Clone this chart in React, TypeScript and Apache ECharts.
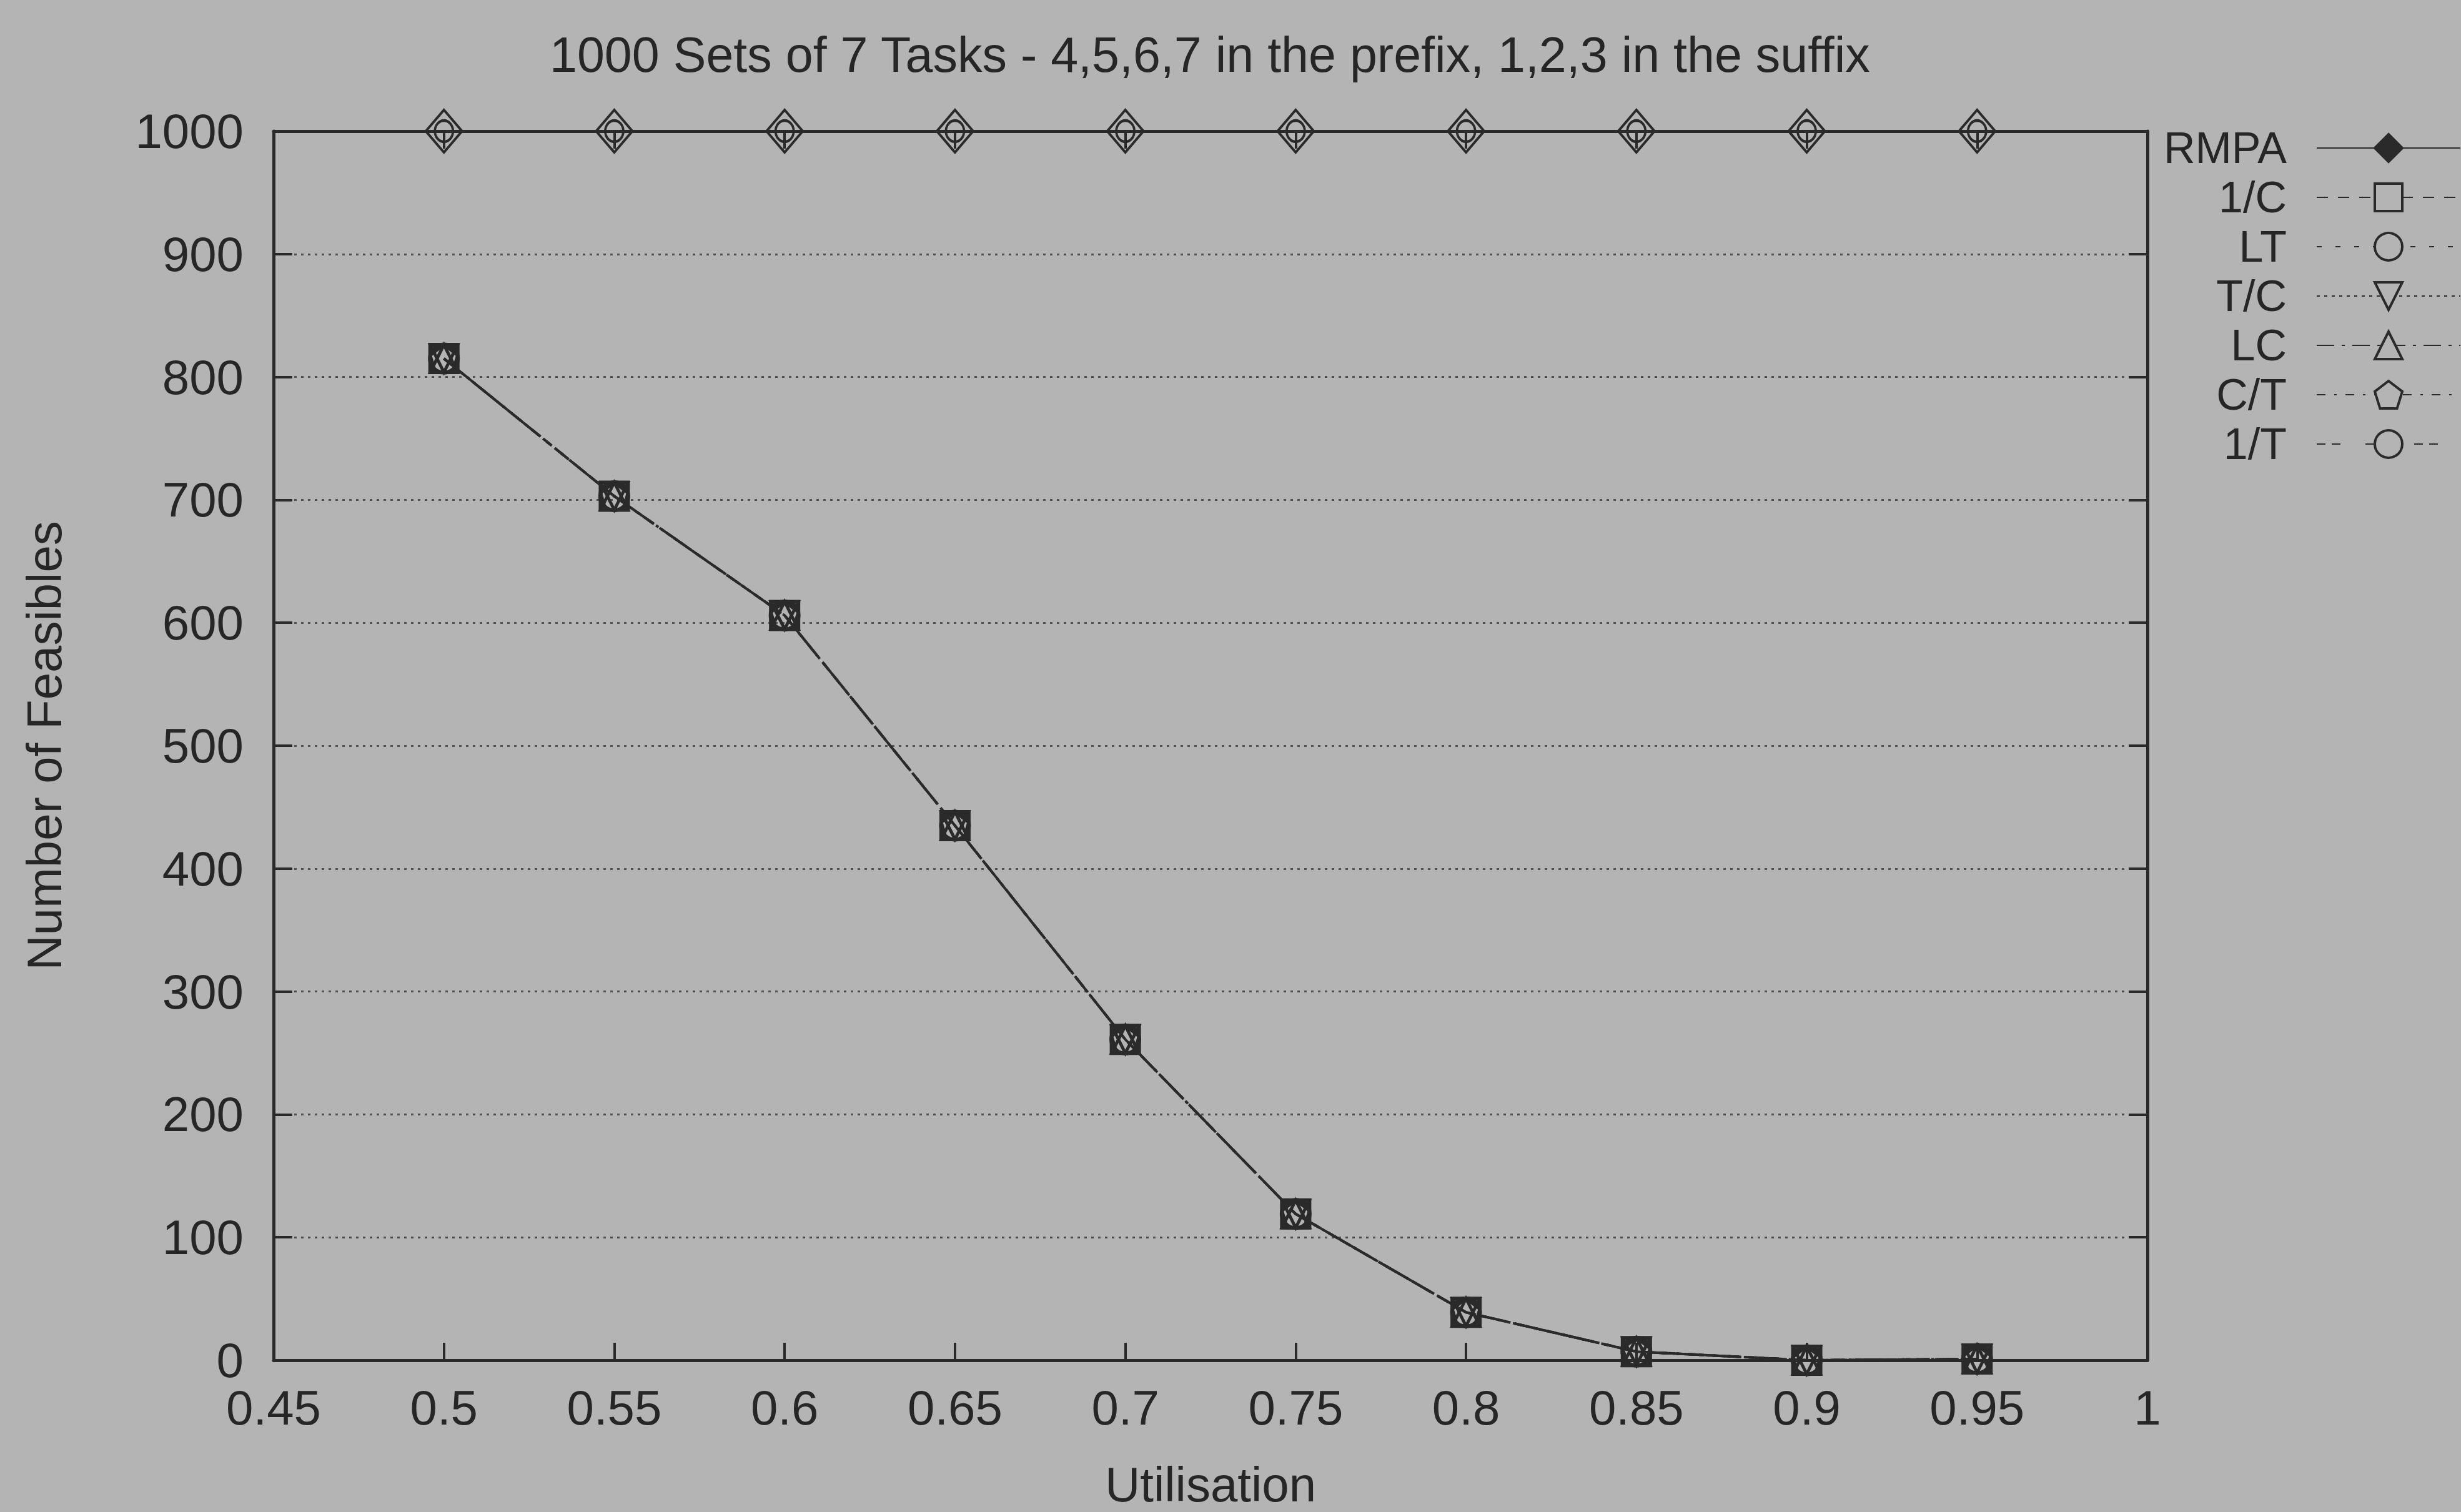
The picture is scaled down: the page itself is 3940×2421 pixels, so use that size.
import React, { useEffect, useRef } from 'react';
import * as echarts from 'echarts';

// ---- data ----
const utilisation = [0.5, 0.55, 0.6, 0.65, 0.7, 0.75, 0.8, 0.85, 0.9, 0.95];
const rmpaValues = [1000, 1000, 1000, 1000, 1000, 1000, 1000, 1000, 1000, 1000];
const oneOverCValues = [815, 703, 606, 435, 261, 119, 39, 7, 0, 1];
const ltValues = [815, 703, 606, 435, 261, 119, 39, 7, 0, 1];
const tOverCValues = [815, 703, 606, 435, 261, 119, 39, 7, 0, 1];
const lcValues = [815, 703, 606, 435, 261, 119, 39, 7, 0, 1];
const cOverTValues = [815, 703, 606, 435, 261, 119, 39, 7, 0, 1];
const oneOverTValues = [815, 703, 606, 435, 261, 119, 39, 7, 0, 1];

const xTicks = [0.45, 0.5, 0.55, 0.6, 0.65, 0.7, 0.75, 0.8, 0.85, 0.9, 0.95, 1];
const yTicks = [0, 100, 200, 300, 400, 500, 600, 700, 800, 900, 1000];

const titleText = '1000 Sets of 7 Tasks - 4,5,6,7 in the prefix, 1,2,3 in the suffix';
const xName = 'Utilisation';
const yName = 'Number of Feasibles';

// ---- style ----
const BG = '#b4b4b4';
const INK = '#262626';
const LINE = '#2a2a2a';
const FONT = "'Liberation Sans', Arial, Helvetica, sans-serif";
const FS = 78;
const LEGEND_FS = 70;

const diamondCircle =
  'path://M0,-1L1,0L0,1L-1,0Z M0.5,0 A0.5,0.5 0 1 1 -0.5,0 A0.5,0.5 0 1 1 0.5,0Z';
const invTriangle = 'path://M-1,-0.9L1,-0.9L0,0.9Z';
const pentagon = 'path://M0,-1L0.951,-0.309L0.588,0.809L-0.588,0.809L-0.951,-0.309Z';

const seriesDefs = [
  { name: 'RMPA', values: rmpaValues, symbol: diamondCircle, size: [58, 68], dash: 'solid' as any, bw: 4 },
  { name: '1/C', values: oneOverCValues, symbol: 'rect', size: 44, dash: [18, 16], bw: 6 },
  { name: 'LT', values: ltValues, symbol: 'circle', size: 44, dash: [8, 22], bw: 5 },
  { name: 'T/C', values: tOverCValues, symbol: invTriangle, size: 44, dash: [5, 7], bw: 5 },
  { name: 'LC', values: lcValues, symbol: 'triangle', size: 44, dash: [28, 12, 5, 12], bw: 5 },
  { name: 'C/T', values: cOverTValues, symbol: pentagon, size: 44, dash: [14, 14, 4, 14], bw: 5 },
  { name: '1/T', values: oneOverTValues, symbol: 'circle', size: 46, dash: [14, 10, 14, 40], bw: 5 },
];

export default function App() {
  const ref = useRef<HTMLDivElement>(null);

  useEffect(() => {
    if (!ref.current) return;
    const chart = echarts.init(ref.current, undefined, { renderer: 'svg' });

    const fmtX = (v: number) => String(Math.round(v * 100) / 100);
    const fmtY = (v: number) => String(Math.round(v));

    const series = seriesDefs
      .map((d, i) => ({
        name: d.name,
        type: 'line',
        xAxisIndex: 0,
        yAxisIndex: 0,
        data: utilisation.map((x, k) => [x, d.values[k]]),
        symbol: d.symbol,
        symbolSize: d.size,
        showSymbol: true,
        z: i === 0 ? 10 : 5,
        lineStyle: { color: LINE, width: 4, type: d.dash },
        itemStyle: { color: 'rgba(0,0,0,0)', borderColor: LINE, borderWidth: d.bw },
        emphasis: { disabled: true },
      }))
      .reverse();

    chart.setOption({
      animation: false,
      backgroundColor: BG,
      textStyle: { fontFamily: FONT },
      title: {
        text: titleText,
        left: 880,
        top: 48,
        padding: 0,
        textStyle: { fontFamily: FONT, fontSize: 79, fontWeight: 'normal', color: INK },
      },
      grid: { left: 438, right: 502, top: 210, bottom: 243, containLabel: false },
      legend: {
        orient: 'vertical',
        align: 'right',
        right: 0,
        top: 197.5,
        padding: 0,
        itemGap: 0,
        itemWidth: 230,
        itemHeight: 55,
        selectedMode: false,
        itemStyle: { borderWidth: 4 },
        textStyle: {
          fontFamily: FONT,
          fontSize: LEGEND_FS,
          color: INK,
          lineHeight: 79,
          padding: [0, 43, 0, 0],
        },
        data: seriesDefs.map((d, i) => ({
          name: d.name,
          itemStyle: { color: i === 0 ? LINE : BG, borderColor: LINE, borderWidth: 4 },
        })),
      },
      xAxis: [
        {
          type: 'value',
          position: 'bottom',
          min: xTicks[0],
          max: xTicks[xTicks.length - 1],
          interval: 0.05,
          name: xName,
          nameLocation: 'middle',
          nameGap: 160,
          nameTextStyle: { fontFamily: FONT, fontSize: FS, color: INK },
          axisLine: { show: true, onZero: false, lineStyle: { color: LINE, width: 5 } },
          axisTick: { show: true, inside: true, length: 28, lineStyle: { color: LINE, width: 4 } },
          axisLabel: { show: true, margin: 37, fontFamily: FONT, fontSize: FS, color: INK, formatter: fmtX },
          splitLine: { show: false },
        },
        {
          type: 'value',
          position: 'top',
          min: xTicks[0],
          max: xTicks[xTicks.length - 1],
          interval: 0.05,
          axisLine: { show: true, onZero: false, lineStyle: { color: LINE, width: 5 } },
          axisTick: { show: true, inside: true, length: 28, lineStyle: { color: LINE, width: 4 } },
          axisLabel: { show: false },
          splitLine: { show: false },
        },
      ],
      yAxis: [
        {
          type: 'value',
          position: 'left',
          min: yTicks[0],
          max: yTicks[yTicks.length - 1],
          interval: 100,
          name: yName,
          nameLocation: 'middle',
          nameGap: 328,
          nameRotate: 90,
          nameTextStyle: { fontFamily: FONT, fontSize: FS, color: INK },
          axisLine: { show: true, onZero: false, lineStyle: { color: LINE, width: 5 } },
          axisTick: { show: true, inside: true, length: 30, lineStyle: { color: LINE, width: 4 } },
          axisLabel: { show: true, margin: 48, fontFamily: FONT, fontSize: FS, color: INK, formatter: fmtY },
          splitLine: { show: true, lineStyle: { color: '#505050', width: 3, type: [4, 7] } },
        },
        {
          type: 'value',
          position: 'right',
          min: yTicks[0],
          max: yTicks[yTicks.length - 1],
          interval: 100,
          axisLine: { show: true, onZero: false, lineStyle: { color: LINE, width: 5 } },
          axisTick: { show: true, inside: true, length: 30, lineStyle: { color: LINE, width: 4 } },
          axisLabel: { show: false },
          splitLine: { show: false },
        },
      ],
      series,
    });

    return () => chart.dispose();
  }, []);

  return (
    <div
      ref={ref}
      style={{ position: 'absolute', left: 0, top: 0, width: 3940, height: 2421 }}
    />
  );
}
